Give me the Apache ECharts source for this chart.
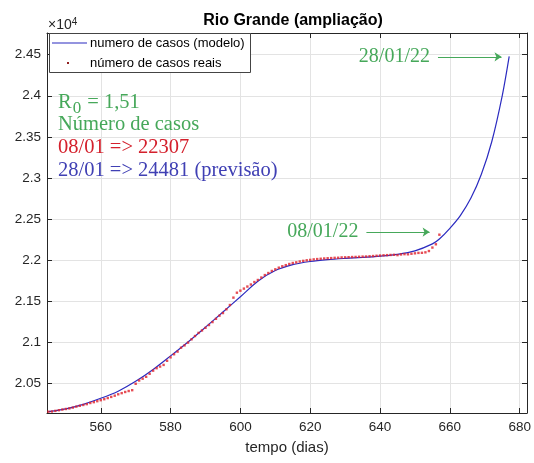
<!DOCTYPE html>
<html>
<head>
<meta charset="utf-8">
<script src="https://cdn.jsdelivr.net/npm/echarts@6/dist/echarts.min.js"></script>
<style>
  html, body { margin: 0; padding: 0; background: #fff; }
  #main { width: 534px; height: 463px; }
</style>
</head>
<body>
<div id="main"></div>
<script>
// modelo (curva ajustada)
var modelDays = [545,550,555,560,565,570,575,580,585,590,595,600,605,610,615,620,625,630,635,640,645,650,655,657,660,663,666,669,672,675,677];
var modelCases = [20150,20185,20240,20313,20400,20520,20665,20830,21000,21180,21365,21550,21740,21870,21942,21980,22003,22018,22030,22046,22068,22110,22195,22255,22385,22540,22750,23040,23440,24000,24481];

// casos reais, um por dia a partir do dia 545
var realStart = 545;
var realCases = [
  20150,20152,20160,20168,20176,20183,20190,20200,20212,20222,
  20232,20242,20256,20266,20278,20290,20302,20316,20330,20345,
  20362,20376,20390,20402,20412,20490,20530,20552,20575,20612,
  20650,20680,20700,20720,20770,20812,20850,20882,20930,20958,
  20992,21032,21072,21110,21140,21172,21206,21242,21282,21320,
  21352,21398,21450,21540,21600,21625,21650,21675,21700,21730,
  21755,21785,21815,21840,21865,21885,21905,21922,21936,21950,
  21962,21970,21980,21988,21995,22000,22006,22010,22014,22017,
  22020,22022,22025,22026,22030,22031,22033,22035,22036,22038,
  22040,22041,22044,22047,22050,22053,22056,22058,22060,22062,
  22058,22066,22070,22068,22075,22080,22085,22086,22092,22108,
  22150,22190,22307
];

var xTicks = [560,580,600,620,640,660,680];
var yTicks = [20500,21000,21500,22000,22500,23000,23500,24000,24500];

var sans = "'Liberation Sans', Arial, sans-serif";
var serif = "'Liberation Serif', 'Times New Roman', serif";
var green = '#46a85a';
var axisColor = '#262626';

var modelData = [];
for (var i = 0; i < modelDays.length; i++) modelData.push([modelDays[i], modelCases[i]]);
var realData = [];
for (var j = 0; j < realCases.length; j++) realData.push([realStart + j, realCases[j]]);

function xAx(pos, labels) {
    return {
        type: 'value', position: pos, min: 544.6, max: 682.1,
        axisLine: { onZero: false, lineStyle: { color: axisColor, width: 1 } },
        axisTick: { inside: true, length: 5, customValues: xTicks, lineStyle: { color: axisColor } },
        axisLabel: { show: labels, customValues: xTicks, color: axisColor, fontSize: 13.5, fontFamily: sans, margin: 7 },
        splitLine: { show: labels, lineStyle: { color: '#e3e3e3', width: 1 } },
        name: labels ? 'tempo (dias)' : '', nameLocation: 'middle', nameGap: 27,
        nameTextStyle: { color: axisColor, fontSize: 15, fontFamily: sans }
    };
}
function yAx(pos, labels) {
    return {
        type: 'value', position: pos, min: 20134, max: 24765,
        axisLine: { show: true, onZero: false, lineStyle: { color: axisColor, width: 1 } },
        axisTick: { show: true, inside: true, length: 5, customValues: yTicks, lineStyle: { color: axisColor } },
        axisLabel: { show: labels, customValues: yTicks, color: axisColor, fontSize: 13.5, fontFamily: sans, margin: 6,
            formatter: function (v) { return String(Math.round(v / 10) / 1000); } },
        splitLine: { show: labels, lineStyle: { color: '#e3e3e3', width: 1 } }
    };
}

var myChart = echarts.init(document.getElementById('main'));
var option = {
    animation: false,
    backgroundColor: '#fff',
    title: {
        text: 'Rio Grande (ampliação)', left: 288, top: 8, textAlign: 'center',
        textStyle: { fontSize: 16, fontWeight: 'bold', color: '#000', fontFamily: sans }
    },
    grid: { left: 47, right: 7, top: 33, bottom: 50, containLabel: false },
    xAxis: [xAx('bottom', true), xAx('top', false)],
    yAxis: [yAx('left', true), yAx('right', false)],
    series: [
        {
            name: 'numero de casos (modelo)', type: 'line', data: modelData,
            smooth: 0.3, showSymbol: false, symbol: 'none',
            lineStyle: { color: '#2b2bc0', width: 1.2 }, z: 2,
            markLine: {
                silent: true, symbol: ['none', 'arrow'], symbolSize: 7,
                lineStyle: { color: green, width: 1, type: 'solid' },
                label: { show: true, position: 'start', distance: 8, color: green, fontSize: 20, fontFamily: serif },
                data: [
                    [{ coord: [636.1, 22339], label: { formatter: '08/01/22' } }, { coord: [654.2, 22339] }],
                    [{ coord: [656.6, 24475], label: { formatter: '28/01/22' } }, { coord: [674.8, 24475] }]
                ]
            }
        },
        {
            name: 'número de casos reais', type: 'scatter', data: realData,
            symbol: 'rect', symbolSize: 2.4,
            itemStyle: { color: '#e0202a' }, z: 3
        }
    ],
    graphic: [
        { type: 'text', left: 48, top: 17, style: { text: '×10{s|4}', fontSize: 14, fontFamily: sans, fill: axisColor,
            rich: { s: { fontSize: 10, fontFamily: sans, fill: axisColor, verticalAlign: 'top', padding: [0, 0, 6, 0] } } } },
        // legenda
        { type: 'rect', shape: { x: 49.5, y: 33.5, width: 201, height: 39 }, style: { fill: '#fff', stroke: '#444', lineWidth: 1 }, z: 10 },
        { type: 'line', shape: { x1: 52, y1: 43, x2: 87, y2: 43 }, style: { stroke: '#2b2bc0', lineWidth: 1.2 }, z: 11 },
        { type: 'rect', shape: { x: 67, y: 62, width: 2, height: 2 }, style: { fill: '#902020' }, z: 11 },
        { type: 'text', x: 90, y: 43, style: { text: 'numero de casos (modelo)', fontSize: 13, fontFamily: sans, fill: '#000', verticalAlign: 'middle' }, z: 11 },
        { type: 'text', x: 90, y: 63, style: { text: 'número de casos reais', fontSize: 13, fontFamily: sans, fill: '#000', verticalAlign: 'middle' }, z: 11 },
        // texto
        { type: 'text', x: 58, y: 103, style: { text: 'R{s|0} = 1,51', fontSize: 20.5, fontFamily: serif, fill: green, verticalAlign: 'middle',
            rich: { s: { fontSize: 17, fontFamily: serif, fill: green, padding: [12, 1, 0, 1] } } }, z: 11 },
        { type: 'text', x: 58, y: 125, style: { text: 'Número de casos', fontSize: 20.5, fontFamily: serif, fill: green, verticalAlign: 'middle' }, z: 11 },
        { type: 'text', x: 58, y: 148, style: { text: '08/01 => 22307', fontSize: 20.5, fontFamily: serif, fill: '#d4202c', verticalAlign: 'middle' }, z: 11 },
        { type: 'text', x: 58, y: 171, style: { text: '28/01 => 24481 (previsão)', fontSize: 20.5, fontFamily: serif, fill: '#4040b4', verticalAlign: 'middle' }, z: 11 }
    ]
};
myChart.setOption(option);
</script>
</body>
</html>
